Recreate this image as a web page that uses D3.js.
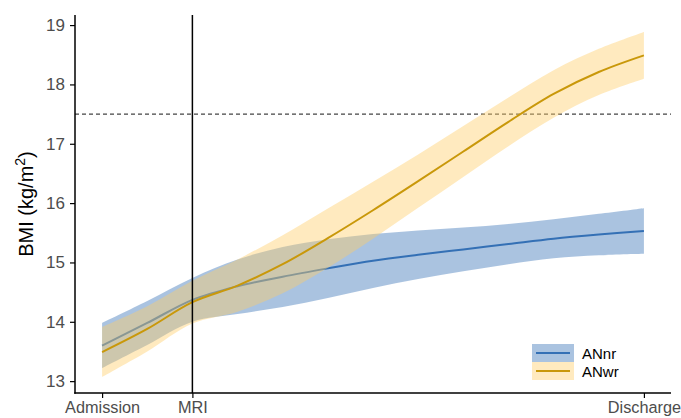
<!DOCTYPE html>
<html>
<head>
<meta charset="utf-8">
<script src="https://cdn.jsdelivr.net/npm/d3@7"></script>
<style>
  html, body { margin: 0; padding: 0; background: #fff; }
  svg { display: block; font-family: Arial, "Liberation Sans", sans-serif; }
</style>
</head>
<body>
<svg id="chart" width="681" height="418"></svg>
<script>
// ---- data ----
const timePoints = [0, 0.5, 1, 1.5, 2, 2.5, 3, 3.5, 4, 4.5, 5, 5.5, 6];
const xTickValues = [0, 1, 6];
const xTickLabels = ["Admission", "MRI", "Discharge"];
const yTicks = [13, 14, 15, 16, 17, 18, 19];
const seriesNames = ["ANnr", "ANwr"];

const annrMean  = [13.60, 13.98, 14.37, 14.60, 14.76, 14.90, 15.03, 15.13, 15.22, 15.31, 15.40, 15.47, 15.53];
const annrUpper = [13.98, 14.35, 14.74, 15.05, 15.26, 15.39, 15.48, 15.54, 15.59, 15.65, 15.73, 15.82, 15.915];
const annrLower = [13.22, 13.61, 14.00, 14.13, 14.25, 14.40, 14.57, 14.72, 14.85, 14.97, 15.07, 15.12, 15.145];

const anwrMean  = [13.49, 13.88, 14.33, 14.61, 14.97, 15.41, 15.88, 16.37, 16.87, 17.37, 17.84, 18.21, 18.49];
const anwrUpper = [13.91, 14.26, 14.69, 15.05, 15.46, 15.91, 16.36, 16.82, 17.30, 17.78, 18.24, 18.60, 18.885];
const anwrLower = [13.07, 13.50, 13.97, 14.17, 14.48, 14.91, 15.40, 15.92, 16.44, 16.96, 17.44, 17.82, 18.095];

const thresholdBMI = 17.5;
const mriTime = 1;

// ---- layout ----
const svg = d3.select("#chart");
const pLeft = 75, pRight = 671, pTop = 15, pBottom = 393;

const x = d3.scaleLinear().domain([-0.3, 6.3]).range([pLeft, pRight]);
const y = d3.scaleLinear().domain([12.8, 19.17]).range([pBottom, pTop]);

const colors = {
  ANnr: { line: "#3470b5", fill: "#3a75b8", fillOpacity: 0.43 },
  ANwr: { line: "#c9980a", fill: "#ffcc66", fillOpacity: 0.42 }
};

const series = [
  { name: "ANnr", mean: annrMean, lo: annrLower, hi: annrUpper },
  { name: "ANwr", mean: anwrMean, lo: anwrLower, hi: anwrUpper }
];

const curve = d3.curveCatmullRom.alpha(0.5);
const area = d3.area()
  .x((d, i) => x(timePoints[i]))
  .y0(d => y(d[0]))
  .y1(d => y(d[1]))
  .curve(curve);
const line = d3.line()
  .x((d, i) => x(timePoints[i]))
  .y(d => y(d))
  .curve(curve);

// dashed threshold
svg.append("line")
  .attr("x1", pLeft).attr("x2", pRight)
  .attr("y1", y(thresholdBMI)).attr("y2", y(thresholdBMI))
  .attr("stroke", "#444").attr("stroke-width", 1.1)
  .attr("stroke-dasharray", "4,3");

// ribbons & lines in order: blue ribbon, blue line, yellow ribbon, yellow line
series.forEach(s => {
  const c = colors[s.name];
  svg.append("path")
    .datum(s.lo.map((v, i) => [v, s.hi[i]]))
    .attr("d", area)
    .attr("fill", c.fill)
    .attr("fill-opacity", c.fillOpacity);
  svg.append("path")
    .datum(s.mean)
    .attr("d", line)
    .attr("fill", "none")
    .attr("stroke", c.line)
    .attr("stroke-width", 2);
});

// MRI vertical line
svg.append("line")
  .attr("x1", x(mriTime)).attr("x2", x(mriTime))
  .attr("y1", pTop).attr("y2", pBottom)
  .attr("stroke", "#000").attr("stroke-width", 1.5);

// axes
const yAxis = d3.axisLeft(y).tickValues(yTicks).tickSize(5).tickPadding(5).tickFormat(d3.format("d"));
const gy = svg.append("g").attr("transform", `translate(${pLeft},0)`).call(yAxis);
gy.select(".domain").remove();
gy.append("line").attr("x1", 0).attr("x2", 0).attr("y1", pTop).attr("y2", pBottom + 0.75)
  .attr("stroke", "#000").attr("stroke-width", 1.5);
gy.selectAll(".tick line").attr("stroke", "#000").attr("stroke-width", 1.2);
gy.selectAll(".tick text").attr("fill", "#4d4d4d").style("font-size", "17px")
  .style("font-family", "Arial, 'Liberation Sans', sans-serif");

const xAxis = d3.axisBottom(x).tickValues(xTickValues).tickSize(5).tickPadding(3)
  .tickFormat((d, i) => xTickLabels[i]);
const gx = svg.append("g").attr("transform", `translate(0,${pBottom})`).call(xAxis);
gx.select(".domain").remove();
gx.append("line").attr("x1", pLeft - 0.75).attr("x2", pRight).attr("y1", 0).attr("y2", 0)
  .attr("stroke", "#000").attr("stroke-width", 1.5);
gx.selectAll(".tick line").attr("stroke", "#000").attr("stroke-width", 1.2);
gx.selectAll(".tick text").attr("fill", "#4d4d4d").style("font-size", "16.3px")
  .style("font-family", "Arial, 'Liberation Sans', sans-serif");

// y title
const title = svg.append("text")
  .attr("transform", "translate(33,204) rotate(-90)")
  .attr("text-anchor", "middle")
  .attr("fill", "#000")
  .style("font-size", "20px");
title.append("tspan").text("BMI (kg/m");
title.append("tspan").attr("dy", -8).style("font-size", "14px").text("2");
title.append("tspan").attr("dy", 8).text(")");

// legend
const lg = svg.append("g").attr("transform", "translate(532,344)");
seriesNames.forEach((name, i) => {
  const c = colors[name];
  const g = lg.append("g").attr("transform", `translate(0,${i * 18})`);
  g.append("rect").attr("width", 42).attr("height", 18)
    .attr("fill", c.fill).attr("fill-opacity", c.fillOpacity);
  g.append("line").attr("x1", 4).attr("x2", 38).attr("y1", 9).attr("y2", 9)
    .attr("stroke", c.line).attr("stroke-width", 2);
  g.append("text").attr("x", 50).attr("y", 14.5)
    .attr("fill", "#000").style("font-size", "15px").text(name);
});
</script>
</body>
</html>
